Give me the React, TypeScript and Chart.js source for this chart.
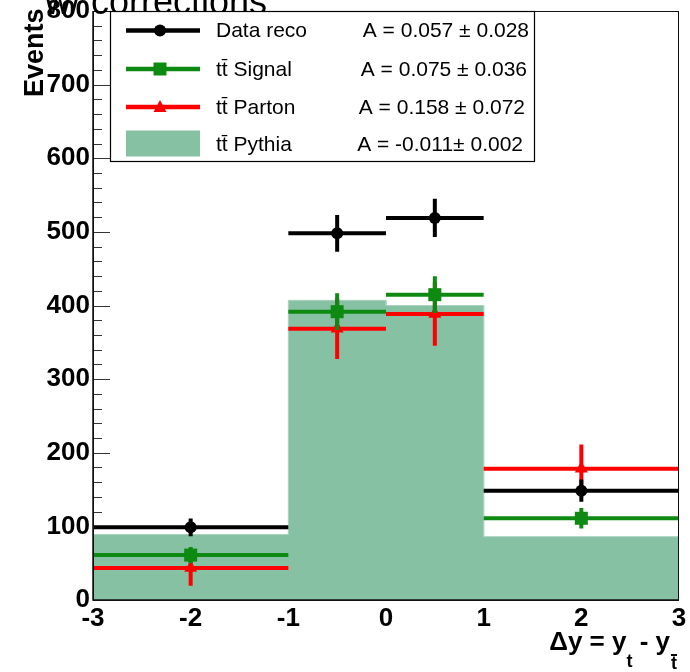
import React, { useEffect, useRef } from 'react';
import { Chart, registerables } from 'chart.js';

Chart.register(...registerables);

// ---------- data ----------
const binEdges = [-3, -1, 0, 1, 3];
const binCenters = [-2, -0.5, 0.5, 2];
const dataReco = [98.7, 498, 519, 148.5];
const dataRecoErr = [12, 25, 26, 15];
const ttSignal = [61, 391.6, 414.7, 111];
const ttSignalErr = [11, 25, 25, 14];
const ttParton = [43.5, 368.5, 388.5, 178.3];
const ttPartonErr = [24, 41, 43, 33];
const ttPythia = [89, 407, 400, 86];
const xTicks = [-3, -2, -1, 0, 1, 2, 3];
const yTicks = [0, 100, 200, 300, 400, 500, 600, 700, 800];
const yMinorStep = 20;
const legendLabels = ['Data reco', 'tt\u0304 Signal', 'tt\u0304 Parton', 'tt\u0304 Pythia'];
const asymmetryLabels = ['A = 0.057 \u00b1 0.028', 'A = 0.075 \u00b1 0.036', 'A = 0.158 \u00b1 0.072', 'A = -0.011\u00b1 0.002'];
const titleText = 'w/ corrections';
const yTitle = 'Events';

// ---------- styles ----------
const FONT = "'Liberation Sans', Arial, Helvetica, sans-serif";
const BLACK = '#000000';
const GREEN = '#0e8a12';
const RED = '#ff0000';
const FILL = '#86c1a4';

const binLo = binEdges.slice(0, -1);
const binHi = binEdges.slice(1);

// stepped histogram outline built from bin edges and values
const pythiaPoints: { x: number; y: number }[] = [];
ttPythia.forEach((v, i) => {
  pythiaPoints.push({ x: binLo[i], y: v });
  pythiaPoints.push({ x: binHi[i], y: v });
});

const toPoints = (vals: number[]) => vals.map((v, i) => ({ x: binCenters[i], y: v }));

const errorBarPlugin = {
  id: 'errorBars',
  beforeDatasetDraw(chart: any, args: any) {
    const ds = chart.data.datasets[args.index];
    if (!ds.errors) return;
    const { ctx, chartArea } = chart;
    const xs = chart.scales.x;
    const ys = chart.scales.y;
    ctx.save();
    ctx.beginPath();
    ctx.rect(chartArea.left, chartArea.top, chartArea.right - chartArea.left, chartArea.bottom - chartArea.top);
    ctx.clip();
    ctx.strokeStyle = ds.borderColor;
    ctx.lineWidth = 4;
    ctx.lineCap = 'butt';
    ds.values.forEach((v: number, i: number) => {
      const y = ys.getPixelForValue(v);
      const xc = xs.getPixelForValue(binCenters[i]);
      ctx.beginPath();
      ctx.moveTo(xs.getPixelForValue(binLo[i]), y);
      ctx.lineTo(xs.getPixelForValue(binHi[i]), y);
      ctx.moveTo(xc, ys.getPixelForValue(v + ds.errors[i]));
      ctx.lineTo(xc, ys.getPixelForValue(v - ds.errors[i]));
      ctx.stroke();
    });
    ctx.restore();
  },
};

const drawMarker = (ctx: CanvasRenderingContext2D, style: string, x: number, y: number, color: string) => {
  ctx.save();
  ctx.fillStyle = color;
  ctx.beginPath();
  if (style === 'circle') {
    ctx.arc(x, y, 6, 0, Math.PI * 2);
  } else if (style === 'rect') {
    ctx.rect(x - 6.5, y - 6.5, 13, 13);
  } else if (style === 'triangle') {
    ctx.moveTo(x, y - 7);
    ctx.lineTo(x + 6.5, y + 5);
    ctx.lineTo(x - 6.5, y + 5);
    ctx.closePath();
  }
  ctx.fill();
  ctx.restore();
};

const framePlugin = {
  id: 'rootFrame',
  beforeDatasetsDraw(chart: any) {
    const { ctx, chartArea } = chart;
    const ys = chart.scales.y;
    ctx.save();
    ctx.strokeStyle = '#333';
    ctx.lineWidth = 1;
    for (let v = yTicks[0]; v <= yTicks[yTicks.length - 1]; v += yMinorStep) {
      const y = Math.round(ys.getPixelForValue(v)) + 0.5;
      const len = v % 100 === 0 ? 17 : 9;
      ctx.beginPath();
      ctx.moveTo(chartArea.left, y);
      ctx.lineTo(chartArea.left + len, y);
      ctx.stroke();
    }
    ctx.restore();
  },
  afterDatasetsDraw(chart: any) {
    const { ctx, chartArea } = chart;
    ctx.save();
    ctx.strokeStyle = '#111';
    ctx.lineWidth = 1;
    ctx.strokeRect(chartArea.left + 0.5, chartArea.top + 0.5, chartArea.right - chartArea.left - 1, chartArea.bottom - chartArea.top);
    ctx.lineWidth = 1.5;
    ctx.beginPath();
    ctx.moveTo(chartArea.left, chartArea.top);
    ctx.lineTo(chartArea.left, chartArea.bottom);
    ctx.lineTo(chartArea.right, chartArea.bottom);
    ctx.stroke();
    ctx.restore();
  },
  afterDraw(chart: any) {
    const { ctx, chartArea } = chart;
    ctx.save();
    // title (cut off at top)
    ctx.fillStyle = '#000';
    ctx.font = `36px ${FONT}`;
    ctx.textAlign = 'right';
    ctx.textBaseline = 'alphabetic';
    ctx.fillText(titleText, 267, 13.5);

    // y title
    ctx.save();
    ctx.translate(43, 97);
    ctx.rotate(-Math.PI / 2);
    ctx.font = `bold 27px ${FONT}`;
    ctx.textAlign = 'left';
    ctx.textBaseline = 'alphabetic';
    ctx.fillText(yTitle, 0, 0);
    ctx.restore();

    // x title: Δy = y_t - y_t̄
    const main = `bold 26px ${FONT}`;
    const sub = `bold 18px ${FONT}`;
    ctx.textAlign = 'left';
    ctx.textBaseline = 'alphabetic';
    ctx.font = main;
    const p1 = '\u0394y = y';
    const p2 = ' - y';
    const w1 = ctx.measureText(p1).width;
    const w2 = ctx.measureText(p2).width;
    ctx.font = sub;
    const ws = ctx.measureText('t').width;
    const endX = chartArea.right - 2;
    let x = endX - (w1 + ws + w2 + ws + 1);
    const base = 650;
    ctx.font = main;
    ctx.fillText(p1, x, base);
    x += w1;
    ctx.font = sub;
    ctx.fillText('t', x, base + 17);
    x += ws;
    ctx.font = main;
    ctx.fillText(p2, x, base);
    x += w2 + 1;
    ctx.font = sub;
    ctx.fillText('t', x, base + 19);
    ctx.fillRect(x, base + 4, ws, 2);

    // legend
    const lx = chartArea.left + 17;
    const ly = chartArea.top;
    const lw = 424;
    const lh = 150;
    ctx.fillStyle = '#fff';
    ctx.fillRect(lx, ly, lw, lh);
    ctx.strokeStyle = '#000';
    ctx.lineWidth = 1.2;
    ctx.strokeRect(lx + 0.5, ly + 0.5, lw, lh);
    const rowY = [ly + 19.5, ly + 58, ly + 96, ly + 133.5];
    const entries = [
      { color: BLACK, marker: 'circle' },
      { color: GREEN, marker: 'rect' },
      { color: RED, marker: 'triangle' },
      { color: FILL, marker: 'box' },
    ];
    entries.forEach((e, i) => {
      const y = rowY[i];
      if (e.marker === 'box') {
        ctx.fillStyle = FILL;
        ctx.fillRect(lx + 16, y - 14, 74, 26);
      } else {
        ctx.strokeStyle = e.color;
        ctx.lineWidth = 4.5;
        ctx.beginPath();
        ctx.moveTo(lx + 16, y);
        ctx.lineTo(lx + 90, y);
        ctx.stroke();
        drawMarker(ctx, e.marker, lx + 50, y, e.color);
      }
      ctx.fillStyle = '#000';
      ctx.font = `21px ${FONT}`;
      ctx.textAlign = 'left';
      ctx.textBaseline = 'middle';
      ctx.fillText(legendLabels[i], lx + 106, y + 1);
      ctx.textAlign = 'right';
      ctx.fillText(asymmetryLabels[i], lx + 419 - i * 2, y + 1);
    });
    ctx.restore();
  },
};

export default function App() {
  const canvasRef = useRef<HTMLCanvasElement | null>(null);

  useEffect(() => {
    const canvas = canvasRef.current;
    if (!canvas) return;
    const chart = new Chart(canvas, {
      type: 'scatter',
      data: {
        datasets: [
          {
            label: 'Data reco',
            data: toPoints(dataReco),
            values: dataReco,
            errors: dataRecoErr,
            borderColor: BLACK,
            backgroundColor: BLACK,
            pointStyle: 'circle',
            pointRadius: 6,
            pointBorderWidth: 0,
            showLine: false,
            order: 1,
          } as any,
          {
            label: 'tt Signal',
            data: toPoints(ttSignal),
            values: ttSignal,
            errors: ttSignalErr,
            borderColor: GREEN,
            backgroundColor: GREEN,
            pointStyle: 'rect',
            pointRadius: 9.2,
            pointBorderWidth: 0,
            showLine: false,
            order: 2,
          } as any,
          {
            label: 'tt Parton',
            data: toPoints(ttParton),
            values: ttParton,
            errors: ttPartonErr,
            borderColor: RED,
            backgroundColor: RED,
            pointStyle: 'triangle',
            pointRadius: 7.5,
            pointBorderWidth: 0,
            showLine: false,
            order: 3,
          } as any,
          {
            type: 'line',
            label: 'tt Pythia',
            data: pythiaPoints,
            borderColor: '#a9d3bf',
            borderWidth: 1,
            backgroundColor: FILL,
            fill: 'origin',
            pointRadius: 0,
            showLine: true,
            tension: 0,
            order: 4,
          } as any,
        ],
      },
      options: {
        animation: false,
        responsive: false,
        events: [],
        layout: { padding: { top: 11, right: 11, left: 0, bottom: 0 } },
        plugins: {
          legend: { display: false },
          tooltip: { enabled: false },
          title: { display: false },
        },
        scales: {
          x: {
            type: 'linear',
            min: -3,
            max: 3,
            afterBuildTicks: (s: any) => {
              s.ticks = xTicks.map((v) => ({ value: v }));
            },
            afterFit: (s: any) => {
              s.height = 72;
              s.paddingLeft = 0;
              s.paddingRight = 0;
            },
            grid: { display: false, drawTicks: false },
            border: { display: false },
            ticks: {
              color: '#000',
              font: { family: FONT, size: 26, weight: 'bold' },
              padding: 3,
              maxRotation: 0,
              autoSkip: false,
              callback: (v: any) => String(v),
            },
          },
          y: {
            type: 'linear',
            min: 0,
            max: 800,
            afterBuildTicks: (s: any) => {
              s.ticks = yTicks.map((v) => ({ value: v }));
            },
            afterFit: (s: any) => {
              s.width = 93;
              s.paddingTop = 0;
              s.paddingBottom = 0;
            },
            grid: { display: false, drawTicks: false },
            border: { display: false },
            ticks: {
              color: '#000',
              font: { family: FONT, size: 26, weight: 'bold' },
              padding: 3,
              autoSkip: false,
              callback: (v: any) => String(v),
            },
          },
        },
      } as any,
      plugins: [errorBarPlugin, framePlugin],
    });
    return () => chart.destroy();
  }, []);

  return (
    <div style={{ position: 'fixed', left: 0, top: 0, width: 690, height: 672, background: '#fff' }}>
      <canvas ref={canvasRef} width={690} height={672} style={{ width: 690, height: 672, display: 'block' }} />
    </div>
  );
}
